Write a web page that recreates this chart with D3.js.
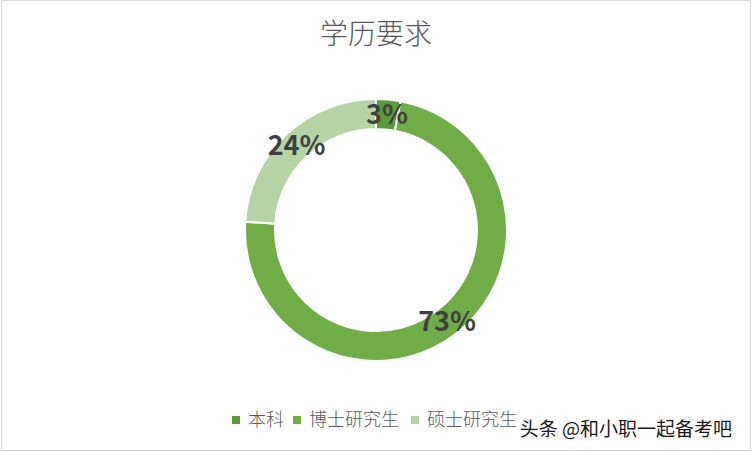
<!DOCTYPE html>
<html>
<head>
<meta charset="utf-8">
<script src="https://cdn.jsdelivr.net/npm/d3@7"></script>
<style>
  body { margin: 0; background: #fff; }
  svg text { font-family: "Noto Sans CJK SC", "Noto Sans", sans-serif; }
</style>
</head>
<body>
<div id="chart"></div>
<script>
// data
var categories = ["本科", "博士研究生", "硕士研究生"];
var values = [3, 73, 24];
var colors = ["#5B9B3C", "#70AD47", "#B4D4A5"];

var width = 752;
var height = 452;

// center and radii of the ring
var cx = 376;
var cy = 230;
var outerR = 131;
var innerR = 101;

var svg = d3.select("#chart")
  .append("svg")
  .attr("width", width)
  .attr("height", height);

// light border round the chart
svg.append("rect")
  .attr("x", 1.5)
  .attr("y", 0.5)
  .attr("width", width - 3)
  .attr("height", height - 2)
  .attr("fill", "#fff")
  .attr("stroke", "#d9d9d9");

// title
svg.append("text")
  .attr("x", width / 2)
  .attr("y", 44)
  .attr("text-anchor", "middle")
  .attr("font-size", 28)
  .attr("font-weight", 300)
  .attr("fill", "#595959")
  .text("学历要求");

var pie = d3.pie().sort(null).value(function(d) { return d; });
var arcs = pie(values);

var arc = d3.arc().innerRadius(innerR).outerRadius(outerR);
var labelArc = d3.arc().innerRadius((innerR + outerR) / 2).outerRadius((innerR + outerR) / 2);

var g = svg.append("g").attr("transform", "translate(" + cx + "," + cy + ")");

g.selectAll("path")
  .data(arcs)
  .enter()
  .append("path")
  .attr("d", arc)
  .attr("fill", function(d, i) { return colors[i]; })
  .attr("stroke", "#fff")
  .attr("stroke-width", 2);

// percentage labels at the middle of each band
g.selectAll("text.lbl")
  .data(arcs)
  .enter()
  .append("text")
  .attr("class", "lbl")
  .attr("x", function(d) { return labelArc.centroid(d)[0]; })
  .attr("y", function(d) { return labelArc.centroid(d)[1]; })
  .attr("dy", "0.36em")
  .attr("text-anchor", "middle")
  .attr("font-size", 27)
  .attr("font-weight", "bold")
  .attr("fill", "#404040")
  .text(function(d) { return d.value + "%"; });

// legend
var legendX = [232, 293, 411];
var legend = svg.append("g");
categories.forEach(function(c, i) {
  legend.append("rect")
    .attr("x", legendX[i])
    .attr("y", 416)
    .attr("width", 8)
    .attr("height", 8)
    .attr("fill", colors[i]);
  legend.append("text")
    .attr("x", legendX[i] + 16)
    .attr("y", 426)
    .attr("font-size", 18)
    .attr("font-weight", 300)
    .attr("fill", "#595959")
    .text(c);
});

// watermark
svg.append("text")
  .attr("x", 732)
  .attr("y", 436)
  .attr("text-anchor", "end")
  .attr("font-size", 19)
  .attr("fill", "#1a1a1a")
  .text("头条 @和小职一起备考吧");
</script>
</body>
</html>
